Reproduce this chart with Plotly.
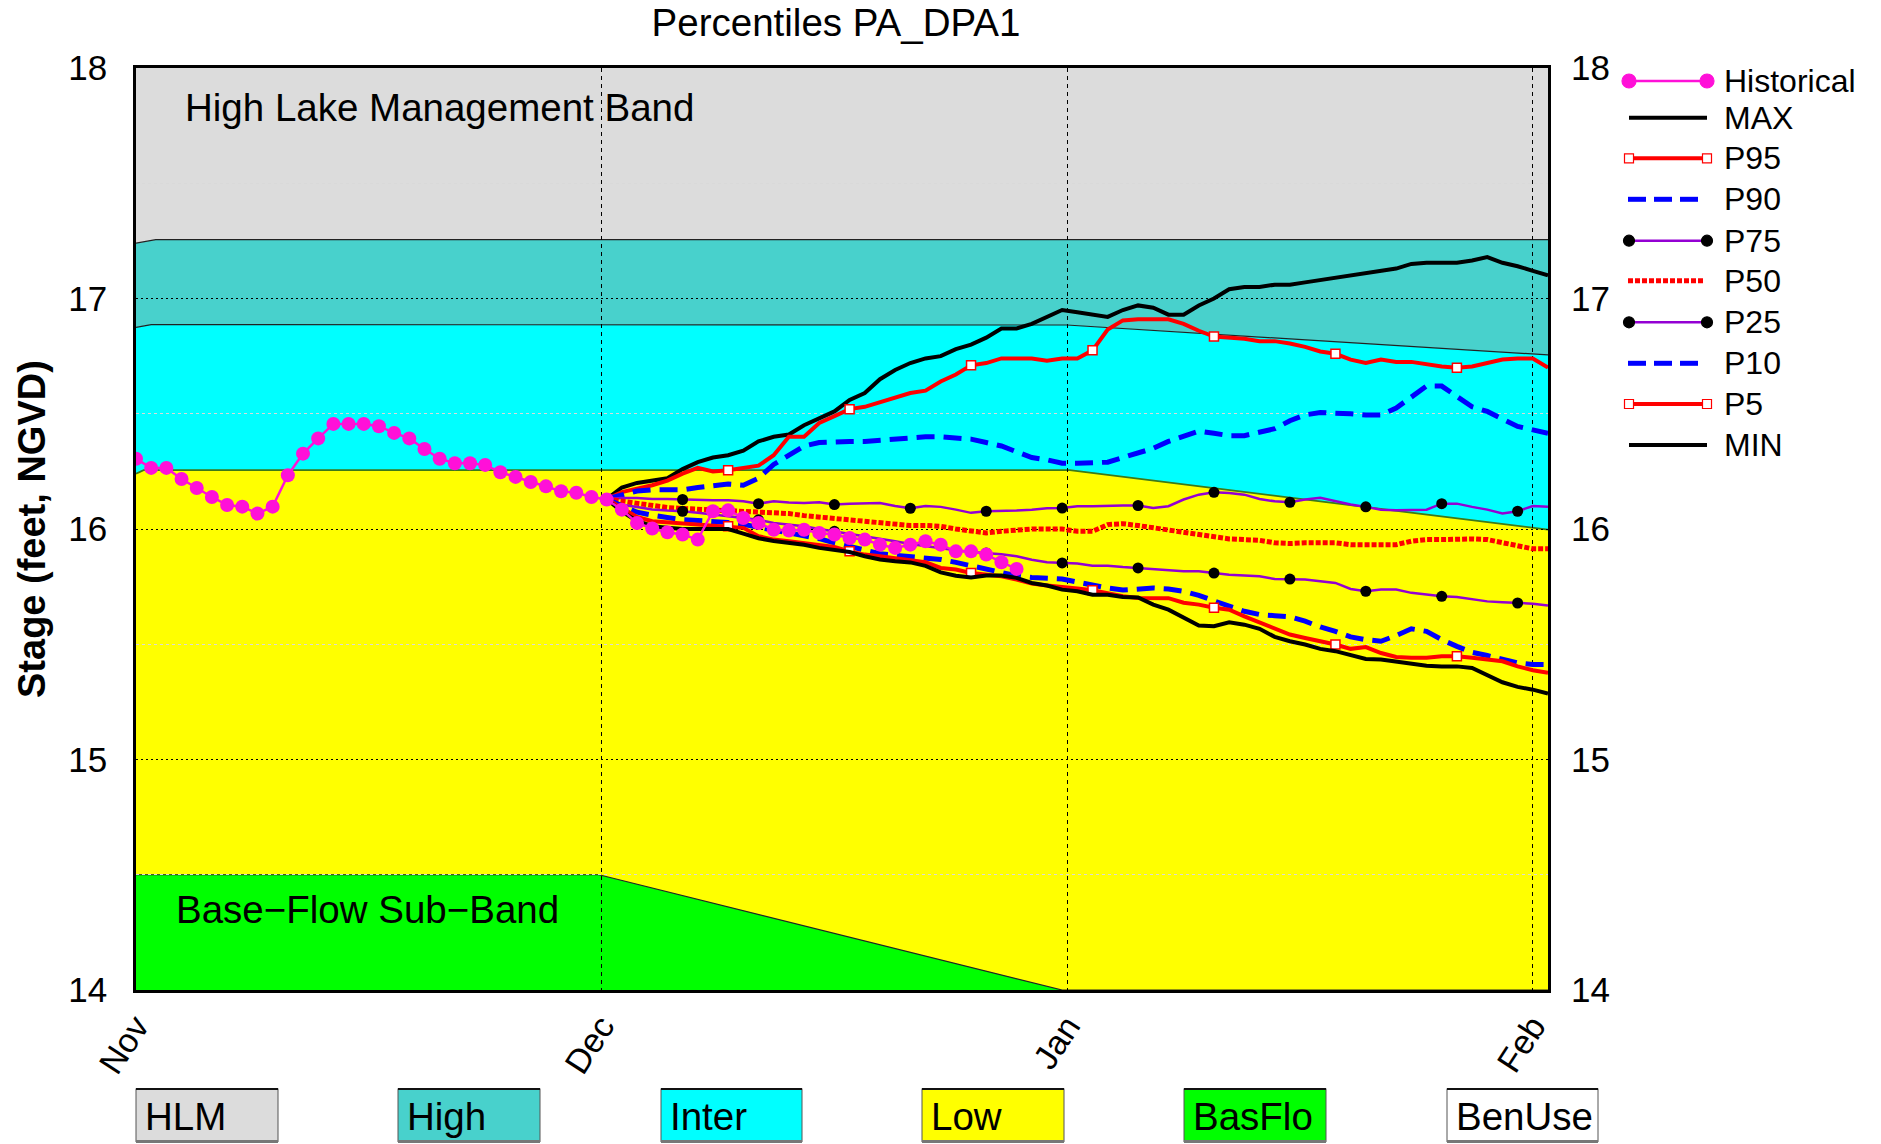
import plotly.graph_objects as go

# ---------------- data ----------------
month_labels = ["Nov", "Dec", "Jan", "Feb"]
month_pos = [0, 92 / 3, 184 / 3, 92]

hist_day = list(range(0, 59))
historical = [16.305, 16.265, 16.265, 16.217, 16.178, 16.139, 16.104, 16.097, 16.067, 16.097,
              16.233, 16.327, 16.393, 16.456, 16.456, 16.456, 16.446, 16.417, 16.393, 16.347,
              16.305, 16.285, 16.285, 16.278, 16.246, 16.226, 16.204, 16.185, 16.164, 16.157,
              16.139, 16.128,
              16.084, 16.026, 16.002, 15.986, 15.976, 15.954,
              16.077, 16.081, 16.048, 16.026, 15.997, 15.993, 15.997, 15.983, 15.976, 15.961,
              15.954, 15.932, 15.918, 15.932, 15.947, 15.932, 15.903, 15.903, 15.889, 15.856,
              15.827]

fc_day = list(range(31, 94))
p_max = [16.13, 16.18, 16.20, 16.21, 16.22, 16.26, 16.29, 16.31, 16.32, 16.34,
         16.38, 16.40, 16.41, 16.45, 16.48, 16.51, 16.56, 16.59, 16.65, 16.69,
         16.72, 16.74, 16.75, 16.78, 16.80, 16.83, 16.87, 16.87, 16.89, 16.92,
         16.95, 16.94, 16.93, 16.92, 16.95, 16.97, 16.96, 16.93, 16.93, 16.97,
         17.00, 17.04, 17.05, 17.05, 17.06, 17.06, 17.07, 17.08, 17.09, 17.10,
         17.11, 17.12, 17.13, 17.15, 17.155, 17.155, 17.155, 17.165, 17.18, 17.155,
         17.14, 17.12, 17.10]
p95 = [16.13, 16.16, 16.175, 16.19, 16.21, 16.24, 16.265, 16.25, 16.255, 16.265,
       16.275, 16.32, 16.40, 16.40, 16.46, 16.49, 16.52, 16.53, 16.55, 16.57,
       16.59, 16.60, 16.64, 16.67, 16.71, 16.72, 16.74, 16.74, 16.74, 16.73,
       16.74, 16.74, 16.775, 16.865, 16.905, 16.91, 16.91, 16.91, 16.89, 16.86,
       16.835, 16.83, 16.825, 16.815, 16.815, 16.805, 16.79, 16.77, 16.76, 16.735,
       16.72, 16.735, 16.725, 16.725, 16.715, 16.705, 16.70, 16.705, 16.72, 16.735,
       16.74, 16.74, 16.70]
p90 = [16.13, 16.15, 16.165, 16.17, 16.17, 16.17, 16.18, 16.19, 16.195, 16.19,
       16.22, 16.28, 16.32, 16.36, 16.375, 16.38, 16.38, 16.38, 16.385, 16.395,
       16.395, 16.40, 16.40, 16.395, 16.39, 16.375, 16.36, 16.335, 16.31, 16.30,
       16.285, 16.285, 16.285, 16.29, 16.31, 16.33, 16.35, 16.38, 16.40, 16.425,
       16.415, 16.405, 16.405, 16.42, 16.435, 16.47, 16.495, 16.505, 16.505, 16.50,
       16.495, 16.495, 16.525, 16.57, 16.62, 16.62, 16.575, 16.53, 16.51, 16.48,
       16.445, 16.43, 16.415]
p75 = [16.13, 16.135, 16.135, 16.13, 16.13, 16.128, 16.125, 16.125, 16.125, 16.12,
       16.11, 16.12, 16.115, 16.113, 16.116, 16.106, 16.11, 16.113, 16.113, 16.10,
       16.09, 16.10, 16.096, 16.084, 16.07, 16.077, 16.077, 16.08, 16.084, 16.09,
       16.091, 16.099, 16.099, 16.102, 16.102, 16.102, 16.091, 16.099, 16.128, 16.149,
       16.159, 16.156, 16.149, 16.13, 16.12, 16.116, 16.128, 16.135, 16.12, 16.106,
       16.096, 16.084, 16.081, 16.081, 16.084, 16.11, 16.11, 16.096, 16.084, 16.067,
       16.077, 16.10, 16.096]
p50 = [16.13, 16.12, 16.11, 16.10, 16.093, 16.089, 16.086, 16.081, 16.077, 16.073,
       16.07, 16.067, 16.067, 16.058, 16.052, 16.044, 16.038, 16.029, 16.026, 16.019,
       16.015, 16.015, 16.012, 16.0, 15.99, 15.983, 15.99, 15.997, 16.0, 16.0,
       16.0, 15.99, 15.99, 16.019, 16.023, 16.015, 16.005, 15.995, 15.986, 15.976,
       15.969, 15.957, 15.954, 15.951, 15.94, 15.937, 15.94, 15.942, 15.94, 15.932,
       15.932, 15.928, 15.932, 15.947, 15.954, 15.954, 15.957, 15.957, 15.954, 15.942,
       15.925, 15.914, 15.914]
p25 = [16.13, 16.105, 16.095, 16.085, 16.08, 16.077, 16.07, 16.062, 16.055, 16.048,
       16.04, 16.026, 16.02, 16.012, 16.0, 15.99, 15.98, 15.969, 15.958, 15.947,
       15.935, 15.925, 15.915, 15.908, 15.9, 15.896, 15.89, 15.882, 15.867, 15.856,
       15.853, 15.85, 15.841, 15.841, 15.835, 15.831, 15.824, 15.821, 15.817, 15.817,
       15.809, 15.802, 15.798, 15.795, 15.783, 15.783, 15.781, 15.773, 15.766, 15.74,
       15.73, 15.737, 15.737, 15.723, 15.715, 15.708, 15.705, 15.694, 15.686, 15.682,
       15.679, 15.676, 15.668]
p10 = [16.13, 16.10, 16.073, 16.06, 16.048, 16.04, 16.037, 16.034, 16.028, 16.02,
       16.007, 15.997, 15.985, 15.973, 15.958, 15.94, 15.925, 15.906, 15.893, 15.886,
       15.879, 15.874, 15.868, 15.855, 15.84, 15.826, 15.809, 15.797, 15.79, 15.785,
       15.783, 15.77, 15.755, 15.744, 15.735, 15.737, 15.744, 15.74, 15.73, 15.712,
       15.691, 15.665, 15.643, 15.629, 15.624, 15.619, 15.60, 15.575, 15.556, 15.532,
       15.52, 15.513, 15.538, 15.567, 15.556, 15.52, 15.491, 15.465, 15.451, 15.433,
       15.419, 15.412, 15.412]
p5 = [16.13, 16.09, 16.052, 16.034, 16.029, 16.025, 16.02, 16.015, 16.012, 16.005,
      15.969, 15.954, 15.947, 15.94, 15.932, 15.922, 15.903, 15.889, 15.882, 15.874,
      15.864, 15.856, 15.831, 15.824, 15.809, 15.802, 15.795, 15.781, 15.763, 15.755,
      15.75, 15.742, 15.734, 15.72, 15.708, 15.701, 15.701, 15.70, 15.68, 15.672,
      15.658, 15.65, 15.621, 15.595, 15.571, 15.542, 15.527, 15.513, 15.499, 15.48,
      15.488, 15.462, 15.445, 15.441, 15.441, 15.448, 15.448, 15.441, 15.434, 15.426,
      15.404, 15.387, 15.376]
p_min = [16.13, 16.075, 16.035, 16.012, 16.005, 16.0, 16.0, 16.0, 16.0, 15.98,
         15.96, 15.948, 15.94, 15.932, 15.918, 15.91, 15.90, 15.882, 15.868, 15.86,
         15.855, 15.84, 15.812, 15.797, 15.79, 15.798, 15.798, 15.788, 15.766, 15.755,
         15.737, 15.73, 15.715, 15.715, 15.705, 15.703, 15.672, 15.65, 15.614, 15.581,
         15.578, 15.595, 15.585, 15.567, 15.532, 15.513, 15.499, 15.48, 15.47, 15.455,
         15.436, 15.434, 15.426, 15.419, 15.407, 15.404, 15.404, 15.397, 15.368, 15.335,
         15.315, 15.303, 15.286]

# band boundaries
top_x = [0, 93]
top_y = [18.0, 18.0]
high_top_x = [0, 1.3, 93]
high_top_y = [17.24, 17.255, 17.255]
inter_top_x = [0, 1.0, 61.3, 93]
inter_top_y = [16.875, 16.887, 16.885, 16.755]
low_top_x = [0, 0.5, 61.5, 93]
low_top_y = [16.24, 16.255, 16.255, 15.997]
basflo_top_x = [0, 30.5, 61.0, 93]
basflo_top_y = [14.5, 14.5, 14.0, 14.0]
bottom_x = [0, 93]
bottom_y = [14.0, 14.0]

band_names = ["HLM", "High", "Inter", "Low", "BasFlo", "BenUse"]
band_colors = ["#DCDCDC", "#48D1CC", "#00FFFF", "#FFFF00", "#00FF00", "#FFFFFF"]

legend_names = ["Historical", "MAX", "P95", "P90", "P75", "P50", "P25", "P10", "P5", "MIN"]

# ---------------- figure geometry (page pixels) ----------------
W, H = 1881, 1144
L, R, T, B = 136, 1548, 68, 990
FONT = "Liberation Sans, Arial, Helvetica, sans-serif"


def pxx(px):
    return (px - L) / (R - L)


def pxy(py):
    return (B - py) / (B - T)


def poly(xu, yu, xl, yl):
    pts = list(zip(xu, yu)) + list(zip(xl[::-1], yl[::-1]))
    return "M " + " L ".join(f"{a},{b}" for a, b in pts) + " Z"


def pline(xs, ys):
    return "M " + " L ".join(f"{a},{b}" for a, b in zip(xs, ys))


shapes = []
bands = [
    (top_x, top_y, high_top_x, high_top_y, band_colors[0]),
    (high_top_x, high_top_y, inter_top_x, inter_top_y, band_colors[1]),
    (inter_top_x, inter_top_y, low_top_x, low_top_y, band_colors[2]),
    (low_top_x, low_top_y, basflo_top_x, basflo_top_y, band_colors[3]),
    (basflo_top_x, basflo_top_y, bottom_x, bottom_y, band_colors[4]),
]
for xu, yu, xl, yl, c in bands:
    shapes.append(dict(type="path", path=poly(xu, yu, xl, yl), xref="x", yref="y",
                       fillcolor=c, line=dict(width=0), layer="below"))
for xs, ys, c, w in [(high_top_x, high_top_y, "#222222", 1.2),
                     (inter_top_x, inter_top_y, "#222222", 1.2),
                     (low_top_x, low_top_y, "#3d7a18", 1.8),
                     (basflo_top_x, basflo_top_y, "#222222", 1.2)]:
    shapes.append(dict(type="path", path=pline(xs, ys), xref="x", yref="y",
                       line=dict(color=c, width=w), layer="below"))

fig = go.Figure()

# invisible trace carrying the right-hand axis
fig.add_trace(go.Scatter(x=fc_day, y=p50, yaxis="y2", mode="lines", line=dict(width=0),
                         opacity=0, hoverinfo="skip", showlegend=False))

series = [
    ("MAX", p_max, dict(color="black", width=4)),
    ("P95", p95, dict(color="#FF0000", width=4)),
    ("P90", p90, dict(color="#0000FF", width=5, dash="18px,9px")),
    ("P75", p75, dict(color="#9400D3", width=2.5)),
    ("P50", p50, dict(color="#FF0000", width=5, dash="5px,2px")),
    ("P25", p25, dict(color="#9400D3", width=2.5)),
    ("P10", p10, dict(color="#0000FF", width=5, dash="18px,9px")),
    ("P5", p5, dict(color="#FF0000", width=4)),
    ("MIN", p_min, dict(color="black", width=4)),
]
for name, ys, ln in series:
    fig.add_trace(go.Scatter(x=fc_day, y=ys, mode="lines", line=ln, name=name, showlegend=False))
    if name in ("P75", "P25"):
        fig.add_trace(go.Scatter(x=fc_day[5::5], y=ys[5::5], mode="markers",
                                 marker=dict(color="black", size=11), showlegend=False))
    if name in ("P95", "P5"):
        fig.add_trace(go.Scatter(x=fc_day[8::8], y=ys[8::8], mode="markers",
                                 marker=dict(color="white", size=9, symbol="square",
                                             line=dict(color="#FF0000", width=1.5)),
                                 showlegend=False))

fig.add_trace(go.Scatter(x=hist_day, y=historical, mode="lines+markers", name="Historical",
                         line=dict(color="#FF10D8", width=2.5),
                         marker=dict(color="#FF10D8", size=14), showlegend=False))

# ---------------- custom legend ----------------
row_y = [81, 117.7, 158.3, 199.3, 240.7, 280.7, 322.3, 363.3, 404, 445]
leg_style = {
    "Historical": dict(color="#FF10D8", width=2.5, dash=None, end=("circle", "#FF10D8", "#FF10D8", 7)),
    "MAX": dict(color="black", width=4, dash=None, end=None),
    "P95": dict(color="#FF0000", width=4, dash=None, end=("square", "white", "#FF0000", 4.5)),
    "P90": dict(color="#0000FF", width=5, dash=True, end=None),
    "P75": dict(color="#9400D3", width=2.5, dash=None, end=("circle", "black", "black", 5.5)),
    "P50": dict(color="#FF0000", width=5, dash="dot", end=None),
    "P25": dict(color="#9400D3", width=2.5, dash=None, end=("circle", "black", "black", 5.5)),
    "P10": dict(color="#0000FF", width=5, dash=True, end=None),
    "P5": dict(color="#FF0000", width=4, dash=None, end=("square", "white", "#FF0000", 4.5)),
    "MIN": dict(color="black", width=4, dash=None, end=None),
}
annotations = []
for name, py in zip(legend_names, row_y):
    st = leg_style[name]
    yy = pxy(py)
    if st["dash"] is True:
        for k in range(3):
            x0 = 1628 + k * 26
            shapes.append(dict(type="line", xref="paper", yref="paper", x0=pxx(x0), x1=pxx(x0 + 18),
                               y0=yy, y1=yy, line=dict(color=st["color"], width=st["width"])))
    elif st["dash"] == "dot":
        shapes.append(dict(type="line", xref="paper", yref="paper", x0=pxx(1628), x1=pxx(1704),
                           y0=yy, y1=yy, line=dict(color=st["color"], width=st["width"], dash="5px,2px")))
    else:
        shapes.append(dict(type="line", xref="paper", yref="paper", x0=pxx(1629), x1=pxx(1707),
                           y0=yy, y1=yy, line=dict(color=st["color"], width=st["width"])))
    if st["end"]:
        sym, fc, lc, r = st["end"]
        for ex in (1629, 1707):
            shapes.append(dict(type="circle" if sym == "circle" else "rect",
                               xref="paper", yref="paper", xsizemode="pixel", ysizemode="pixel",
                               xanchor=pxx(ex), yanchor=yy, x0=-r, x1=r, y0=-r, y1=r,
                               fillcolor=fc, line=dict(color=lc, width=1.2)))
    annotations.append(dict(text=name, xref="paper", yref="paper", x=pxx(1722), y=yy,
                            xanchor="left", yanchor="middle", showarrow=False,
                            font=dict(size=32, color="black", family=FONT)))

# ---------------- bottom band boxes ----------------
box_left = [136, 398, 661, 922, 1184, 1447]
box_w = [142, 142, 141, 142, 142, 151]
for name, c, bl, bw in zip(band_names, band_colors, box_left, box_w):
    shapes.append(dict(type="rect", xref="paper", yref="paper", x0=pxx(bl), x1=pxx(bl + bw),
                       y0=pxy(1142), y1=pxy(1088.5), fillcolor=c, line=dict(color="#555555", width=1)))
    shapes.append(dict(type="line", xref="paper", yref="paper", x0=pxx(bl), x1=pxx(bl + bw),
                       y0=pxy(1089), y1=pxy(1089), line=dict(color="#111111", width=2)))
    shapes.append(dict(type="line", xref="paper", yref="paper", x0=pxx(bl), x1=pxx(bl + bw),
                       y0=pxy(1141.5), y1=pxy(1141.5), line=dict(color="#777777", width=3)))
    annotations.append(dict(text=name, xref="paper", yref="paper", x=pxx(bl + 7), y=pxy(1116),
                            xanchor="left", yanchor="middle", showarrow=False,
                            font=dict(size=38.5, color="black", family=FONT)))

# band labels
annotations.append(dict(text="High Lake Management Band", x=3.1, y=17.83, xref="x", yref="y",
                        xanchor="left", yanchor="middle", showarrow=False,
                        font=dict(size=38.5, color="black", family=FONT)))
annotations.append(dict(text="Base\u2212Flow Sub\u2212Band", x=2.5, y=14.35, xref="x", yref="y",
                        xanchor="left", yanchor="middle", showarrow=False,
                        font=dict(size=38.5, color="black", family=FONT)))
# y title
annotations.append(dict(text="<b>Stage (feet, NGVD)</b>", xref="paper", yref="paper",
                        x=pxx(32), y=0.5, xanchor="center", yanchor="middle", textangle=-90,
                        showarrow=False, font=dict(size=38, color="black", family=FONT)))

fig.update_layout(
    width=W, height=H,
    margin=dict(l=L, r=W - R, t=T, b=H - B, autoexpand=False),
    paper_bgcolor="white", plot_bgcolor="white",
    font=dict(family=FONT, color="black"),
    title=dict(text="Percentiles PA_DPA1", x=836 / W, xref="container", xanchor="center",
               y=1 - 23 / H, yref="container", yanchor="middle",
               font=dict(size=38.5, color="black", family=FONT)),
    showlegend=False,
    shapes=shapes,
    annotations=annotations,
    xaxis=dict(range=[0, 93], tickmode="array", tickvals=month_pos, ticktext=month_labels,
               tickangle=-57, tickfont=dict(size=34), ticks="",
               showgrid=True, gridcolor="black", gridwidth=1, griddash="4px,4px",
               showline=True, linecolor="black", linewidth=2.5, mirror=True, zeroline=False),
    yaxis=dict(range=[14, 18], tickmode="array", tickvals=[14, 15, 16, 17, 18],
               tickfont=dict(size=35), ticks="", ticklabelstandoff=19,
               showgrid=True, gridcolor="black", gridwidth=1, griddash="2px,3px",
               minor=dict(tickvals=[14.5, 15.5, 16.5, 17.5], showgrid=True, gridcolor="#d9d9d9",
                          griddash="3px,3px", gridwidth=1, ticks=""),
               showline=True, linecolor="black", linewidth=2.5, mirror=True, zeroline=False),
    yaxis2=dict(range=[14, 18], overlaying="y", side="right", anchor="x", tickmode="array",
                tickvals=[14, 15, 16, 17, 18], tickfont=dict(size=35), ticks="",
                ticklabelstandoff=22, showgrid=False, zeroline=False, showline=False),
)

fig.write_html("out.html", config={"displayModeBar": False},
               post_script="document.body.style.margin='0';document.body.style.overflow='hidden';")
